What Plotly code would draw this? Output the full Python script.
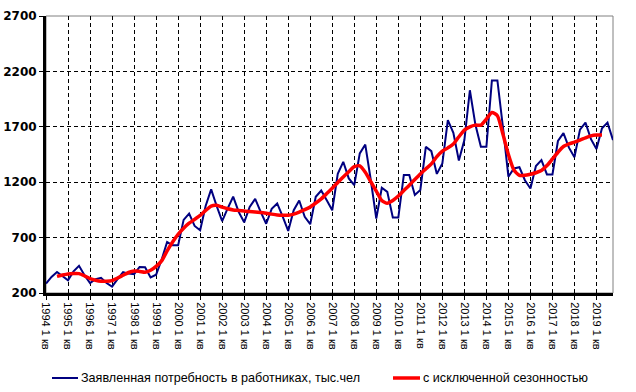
import plotly.graph_objects as go

years = list(range(1994, 2020))
tick_labels = [f"{y} 1 кв" for y in years]

# quarterly demand for workers, 1994 Q1 .. 2019 Q4 (thousand people)
demand = [
    285, 345, 390, 355, 315, 395, 445, 360,
    290, 325, 337, 290, 258, 325, 388, 375,
    370, 435, 432, 340, 365, 500, 660, 630,
    630, 860, 917, 805, 767, 985, 1135, 985,
    848, 963, 1070, 932, 838, 977, 1050, 932,
    825, 960, 1008, 890, 760, 947, 1035, 887,
    821, 1068, 1125, 1038, 947, 1275, 1384, 1234,
    1173, 1460, 1540, 1220, 872, 1150, 1113, 881,
    881, 1264, 1264, 1085, 1130, 1519, 1480, 1275,
    1369, 1761, 1645, 1395, 1580, 2030, 1720, 1520,
    1520, 2118, 2118, 1700, 1250, 1324, 1335, 1218,
    1143, 1346, 1399, 1270, 1270, 1572, 1643, 1512,
    1426, 1675, 1738, 1588, 1500, 1686, 1738, 1580,
]

# seasonally adjusted, 1994 Q3 .. 2019 Q2
adjusted = [
    350, 362, 372, 376, 375, 355,
    330, 315, 306, 306, 312, 335, 360, 385,
    399, 395, 388, 405, 440, 490, 580, 660,
    730, 785, 830, 865, 900, 945, 985, 992,
    975, 960, 950, 945, 940, 935, 932, 927,
    920, 912, 905, 902, 902, 912, 930, 952,
    977, 1012, 1050, 1097, 1146, 1198, 1248, 1295,
    1340, 1348, 1290, 1205, 1120, 1035, 1010, 1035,
    1075, 1125, 1173, 1225, 1275, 1320, 1365, 1430,
    1480, 1510, 1545, 1610, 1670, 1700, 1715, 1715,
    1770, 1830, 1800, 1635, 1450, 1310, 1262, 1262,
    1272, 1285, 1305, 1350, 1410, 1470, 1522, 1545,
    1562, 1580, 1600, 1618, 1625, 1625,
]
adjusted_start = 2

name_demand = "Заявленная потребность в работниках, тыс.чел"
name_adjusted = "с исключенной сезонностью"

x_demand = list(range(len(demand)))
x_adjusted = list(range(adjusted_start, adjusted_start + len(adjusted)))
tick_vals = [4 * k for k in range(len(years))]

BLUE = "#000080"
RED = "#FF0000"

fig = go.Figure()
fig.add_trace(go.Scatter(x=x_demand, y=demand, mode="lines", name=name_demand,
                         line=dict(color=BLUE, width=2)))
fig.add_trace(go.Scatter(x=x_adjusted, y=adjusted, mode="lines", name=name_adjusted,
                         line=dict(color=RED, width=3.5, shape="spline", smoothing=0.6)))

# plot-area border (gray, top/right)
fig.add_shape(type="rect", xref="paper", yref="paper", x0=0, x1=1, y0=0, y1=1,
              line=dict(color="#808080", width=1), layer="below")

# manual legend below the plot
L, R, T, B = 46, 613, 16, 293
W, H = R - L, B - T
def px(xp):
    return (xp - L) / W
def py(yp):
    return (B - yp) / H

legend_y = 378
legend_items = [(52, 78, 79, BLUE, 2, name_demand), (393, 420, 421, RED, 3.5, name_adjusted)]
for x0, x1, xt, col, lw, txt in legend_items:
    fig.add_shape(type="line", xref="paper", yref="paper",
                  x0=px(x0), x1=px(x1), y0=py(legend_y), y1=py(legend_y),
                  line=dict(color=col, width=lw))
    fig.add_annotation(xref="paper", yref="paper", x=px(xt), y=py(legend_y),
                       xanchor="left", yanchor="middle", showarrow=False, text=txt,
                       font=dict(family="Liberation Sans, Arial", size=12.6, color="black"))

fig.update_layout(
    width=636, height=392,
    margin=dict(l=L, r=636 - R, t=T, b=392 - B),
    paper_bgcolor="white", plot_bgcolor="white",
    showlegend=False,
    font=dict(family="Liberation Sans, Arial", color="black"),
)
fig.update_xaxes(
    range=[0, len(demand) - 1], automargin=False,
    tickmode="array", tickvals=tick_vals, ticktext=tick_labels,
    tickangle=90, tickfont=dict(family="Liberation Sans, Arial", size=11, color="black"),
    ticks="outside", ticklen=4, tickcolor="black", tickwidth=1,
    showline=True, linecolor="black", linewidth=3,
    showgrid=True, gridcolor="black", gridwidth=1, griddash="4px,3px",
    zeroline=False,
)
fig.update_yaxes(
    range=[200, 2700], automargin=False, tickmode="linear", tick0=200, dtick=500,
    tickfont=dict(family="DejaVu Sans", size=12, color="black", weight="bold"),
    ticks="outside", ticklen=4, tickcolor="black", tickwidth=1,
    showline=True, linecolor="black", linewidth=3,
    showgrid=True, gridcolor="black", gridwidth=1, griddash="4px,3px",
    zeroline=False,
)

fig.write_html("out.html", config={"displayModeBar": False},
               post_script="document.body.style.margin='0px';document.body.style.overflow='hidden';")
